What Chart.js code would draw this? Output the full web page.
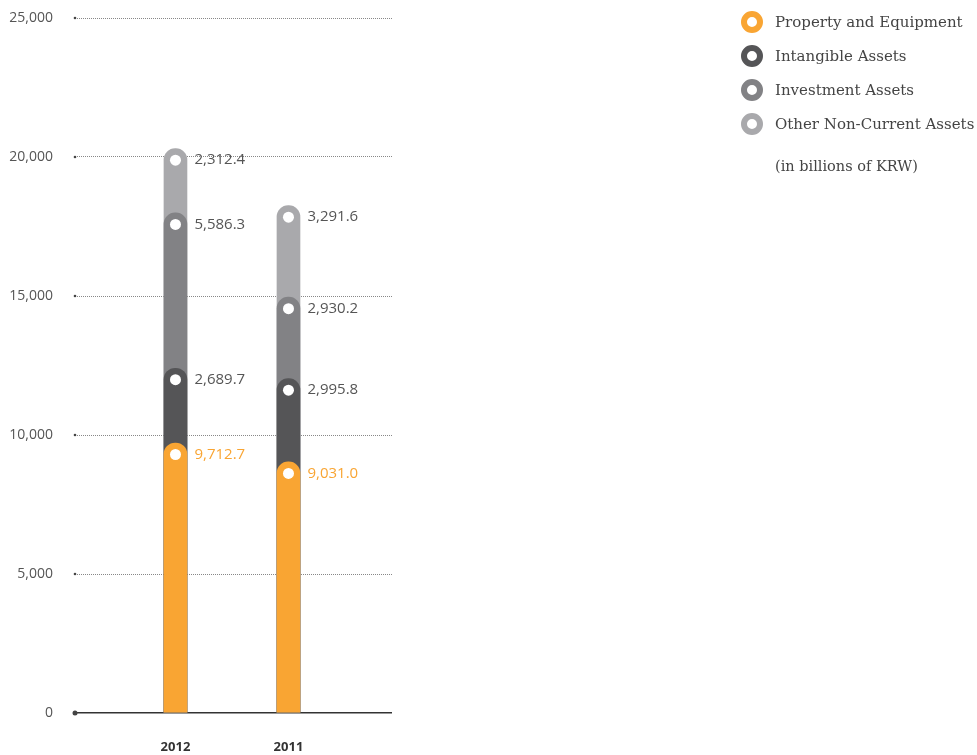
<!DOCTYPE html>
<html>
<head>
<meta charset="utf-8">
<script src="https://cdn.jsdelivr.net/npm/chart.js@4/dist/chart.umd.min.js"></script>
<style>
  html, body { margin: 0; padding: 0; background: #fff; }
  #wrap { position: relative; width: 977px; height: 755px; }
  #legend { position: absolute; left: 741px; top: 16px; font-family: "DejaVu Serif", serif; font-size: 15px; color: #444; }
  .item { display: flex; align-items: center; height: 34px; margin-top: -11px; margin-bottom: 11px; }
  .ring { box-sizing: border-box; width: 22px; height: 22px; border-radius: 50%; border: 6px solid; background: #fff; margin-right: 12px; }
  .note { margin-left: 34px; margin-top: 17px; font-size: 14.5px; }
</style>
</head>
<body>
<div id="wrap">
  <canvas id="myChart" width="977" height="755"></canvas>
  <div id="legend"></div>
</div>
<script>
const years = ['2012', '2011'];
const seriesNames = ['Property and Equipment', 'Intangible Assets', 'Investment Assets', 'Other Non-Current Assets'];
const property = [9712.7, 9031.0];
const intangible = [2689.7, 2995.8];
const investment = [5586.3, 2930.2];
const otherAssets = [2312.4, 3291.6];
const yTicks = [0, 5000, 10000, 15000, 20000, 25000];

const colors = ['#F9A533', '#555557', '#828285', '#A9A9AC'];
const series = [property, intangible, investment, otherAssets];

// running totals so every segment can be drawn from 0 with a rounded top,
// lower segments drawn on top of the ones above
const datasets = series.map((vals, s) => ({
    label: seriesNames[s],
    data: vals.map((v, i) => ({
        x: i,
        y: series.slice(0, s + 1).reduce((acc, arr) => acc + arr[i], 0),
        v: v
    })),
    backgroundColor: colors[s],
    borderWidth: 0,
    borderRadius: { topLeft: 12, topRight: 12, bottomLeft: 0, bottomRight: 0 },
    borderSkipped: false,
    barThickness: 23,
    grouped: false
}));

// html legend
const legend = document.getElementById('legend');
seriesNames.forEach((name, s) => {
    const row = document.createElement('div');
    row.className = 'item';
    row.innerHTML = '<span class="ring" style="border-color:' + colors[s] + '"></span><span>' + name + '</span>';
    legend.appendChild(row);
});
const note = document.createElement('div');
note.className = 'note';
note.textContent = '(in billions of KRW)';
legend.appendChild(note);

const fmt = (v) => v.toLocaleString('en-US', { minimumFractionDigits: 1, maximumFractionDigits: 1 });

const markers = {
    id: 'markers',
    afterDatasetsDraw(chart) {
        const ctx = chart.ctx;
        const yScale = chart.scales.y;
        const left = chart.chartArea.left;
        ctx.save();
        // dots on the axis at each tick
        yTicks.forEach((t) => {
            const py = yScale.getPixelForValue(t);
            ctx.fillStyle = '#444';
            ctx.beginPath();
            ctx.arc(left, py, t === 0 ? 2.5 : 1.3, 0, Math.PI * 2);
            ctx.fill();
        });
        // white dots and value labels
        chart.data.datasets.forEach((ds, s) => {
            const meta = chart.getDatasetMeta(s);
            meta.data.forEach((bar, i) => {
                const cy = bar.y + bar.width / 2;
                ctx.fillStyle = '#fff';
                ctx.beginPath();
                ctx.arc(bar.x, cy, 5.5, 0, Math.PI * 2);
                ctx.fill();
                ctx.fillStyle = s === 0 ? '#F9A533' : '#555';
                ctx.font = '15px "Open Sans", sans-serif';
                ctx.textAlign = 'left';
                ctx.textBaseline = 'middle';
                ctx.fillText(fmt(ds.data[i].v), bar.x + 19, cy);
            });
        });
        ctx.restore();
    }
};

new Chart(document.getElementById('myChart'), {
    type: 'bar',
    data: { datasets: datasets },
    plugins: [markers],
    options: {
        responsive: false,
        animation: false,
        layout: { padding: { top: 18, right: 585, left: 0, bottom: 0 } },
        plugins: { legend: { display: false }, tooltip: { enabled: false } },
        scales: {
            x: {
                type: 'linear',
                offset: false,
                min: -0.889,
                max: 1.916,
                afterBuildTicks: (scale) => { scale.ticks = years.map((y, i) => ({ value: i })); },
                afterFit: (scale) => { scale.height = 42; scale.paddingLeft = 0; scale.paddingRight = 0; },
                ticks: {
                    callback: (v) => years[v],
                    color: '#333',
                    font: { family: '"Open Sans", sans-serif', size: 13, weight: 'bold' },
                    padding: 18
                },
                grid: { display: false },
                border: { display: false }
            },
            y: {
                min: 0,
                max: 25000,
                afterBuildTicks: (scale) => { scale.ticks = yTicks.map((v) => ({ value: v })); },
                afterFit: (scale) => { scale.width = 75; scale.paddingTop = 0; scale.paddingBottom = 0; },
                ticks: {
                    callback: (v) => v.toLocaleString('en-US'),
                    color: '#555',
                    font: { family: '"Open Sans", sans-serif', size: 14 },
                    padding: 22
                },
                grid: {
                    drawTicks: false,
                    color: (c) => c.tick && c.tick.value === 0 ? '#333' : '#888',
                    lineWidth: (c) => c.tick && c.tick.value === 0 ? 1.5 : 1
                },
                border: { display: false, dash: (c) => c.tick && c.tick.value === 0 ? [] : [1, 1] }
            }
        }
    }
});
</script>
</body>
</html>
